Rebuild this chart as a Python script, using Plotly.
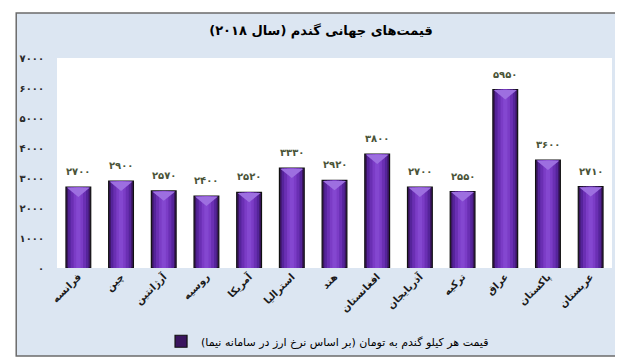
import plotly.graph_objects as go

categories = ["فرانسه", "چین", "آرژانتین", "روسیه", "آمریکا", "استرالیا", "هند",
              "افغانستان", "آذربایجان", "ترکیه", "عراق", "پاکستان", "عربستان"]
prices = [2700, 2900, 2570, 2400, 2520, 3330, 2920, 3800, 2700, 2550, 5950, 3600, 2710]
value_labels = ["۲۷۰۰", "۲۹۰۰", "۲۵۷۰", "۲۴۰۰", "۲۵۲۰", "۳۳۳۰", "۲۹۲۰",
                "۳۸۰۰", "۲۷۰۰", "۲۵۵۰", "۵۹۵۰", "۳۶۰۰", "۲۷۱۰"]
y_tickvals = [0, 1000, 2000, 3000, 4000, 5000, 6000, 7000]
y_ticktext = ["۰", "۱۰۰۰", "۲۰۰۰", "۳۰۰۰", "۴۰۰۰", "۵۰۰۰", "۶۰۰۰", "۷۰۰۰"]
title_text = "قیمت\u200cهای جهانی گندم (سال ۲۰۱۸)\u200f"
series_name = "\u200fقیمت هر کیلو گندم به تومان (بر اساس نرخ ارز در سامانه نیما)\u200f"

FONT = "DejaVu Sans"
xs = list(range(len(categories)))
W = 0.58

fig = go.Figure()

# gradient-like cylinder bars (layered)
layers = [(W, "#3a155f"), (0.48, "#55249a"), (0.36, "#6a2fb3"), (0.22, "#7b3cc6"), (0.10, "#8447d0")]
for k, (w, c) in enumerate(layers):
    fig.add_trace(go.Bar(
        x=xs, y=prices, width=w,
        marker=dict(color=c, line=dict(color="#111111", width=1.2 if k == 0 else 0)),
        name=series_name, showlegend=(k == 0), hoverinfo="skip" if k else None,
    ))

# light triangular caps on top of each bar
dh = 330
tx, ty = [], []
for x, v in zip(xs, prices):
    tx += [x - W / 2 + 0.02, x + W / 2 - 0.02, x, x - W / 2 + 0.02, None]
    ty += [v - 20, v - 20, v - dh, v - 20, None]
fig.add_trace(go.Scatter(x=tx, y=ty, mode="lines", fill="toself",
                         fillcolor="#9d6fe0", line=dict(width=0),
                         showlegend=False, hoverinfo="skip"))

for x, v, t in zip(xs, prices, value_labels):
    fig.add_annotation(x=x, y=v, text=t, showarrow=False, yanchor="bottom", yshift=8,
                       font=dict(family=FONT, size=10, color="#4a5438", weight="bold"))

L, R, T, B = 46, 19, 50, 95
pw, ph = 623 - L - R, 360 - T - B
def px(xp): return (xp - L) / pw
def py(yp): return (360 - B - yp) / ph

fig.update_layout(
    width=623, height=360,
    margin=dict(l=L, r=R, t=T, b=B, pad=0),
    barmode="overlay",
    paper_bgcolor="white", plot_bgcolor="white",
    shapes=[
        dict(type="rect", xref="paper", yref="paper", x0=px(5), x1=px(617), y0=py(355), y1=py(4),
             fillcolor="#dce6f2", line=dict(color="#6b6b6b", width=1.5), layer="below"),
        dict(type="rect", xref="paper", yref="paper", x0=0, x1=1, y0=0, y1=1,
             fillcolor="white", line=dict(width=0), layer="below"),
    ],
    title=dict(text=title_text, x=313 / 623, y=1 - 22 / 360, xanchor="center", yanchor="middle",
               font=dict(family=FONT, size=13, color="black", weight="bold")),
    xaxis=dict(tickmode="array", tickvals=xs, ticktext=categories, tickangle=-45,
               range=[-0.5, len(categories) - 0.5], showgrid=False, zeroline=False,
               showline=False, ticks="",
               tickfont=dict(family=FONT, size=10, color="#1a1a1a", weight="bold")),
    yaxis=dict(tickmode="array", tickvals=y_tickvals, ticktext=y_ticktext, range=[0, 7000],
               showgrid=False, zeroline=False, showline=False, ticks="", ticklabelstandoff=12,
               tickfont=dict(family=FONT, size=10, color="#2a2a2a", weight="bold")),
    legend=dict(orientation="h", x=px(318), y=py(340), xanchor="center", yanchor="middle",
                bgcolor="rgba(0,0,0,0)", itemwidth=30,
                font=dict(family=FONT, size=11, color="black")),
    showlegend=True,
)

fig.write_html("out.html")
